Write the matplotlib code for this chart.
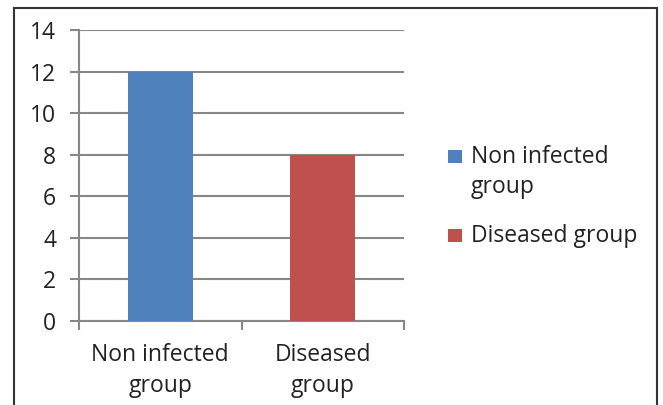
import matplotlib.pyplot as plt
import matplotlib.lines as mlines
from matplotlib.patches import Rectangle

# Group counts
categories = ['Non infected\ngroup', 'Diseased\ngroup']
legend_labels = ['Non infected\ngroup', 'Diseased group']
counts = [12, 8]
colors = ['#4F81BD', '#C0504D']
y_ticks = [0, 2, 4, 6, 8, 10, 12, 14]

W, H = 663, 405
plt.rcParams['font.family'] = ['Open Sans', 'DejaVu Sans']
FS = 16.5
TXT = '#222222'


def fx(px):
    return px / W


def fy(py):
    return 1 - py / H


fig = plt.figure(figsize=(W / 100, H / 100), dpi=100)
ax = fig.add_axes([fx(79), fy(321), fx(404 - 79), (321 - 30) / H])

x = list(range(len(categories)))
ax.bar(x, counts, width=0.4, color=colors, zorder=3)
ax.set_xlim(-0.5, len(categories) - 0.5)
ax.set_ylim(0, 14)
ax.set_yticks(y_ticks)
ax.set_yticklabels([str(v) for v in y_ticks], fontsize=FS, color=TXT)

# category labels centered, tick marks on category boundaries
ax.set_xticks(x)
ax.set_xticklabels(categories, fontsize=FS, color=TXT, linespacing=1.35)
ax.tick_params(axis='x', length=0, pad=16)
ax.set_xticks([-0.5, 0.5, 1.5], minor=True)
ax.tick_params(axis='x', which='minor', length=6.5, width=1.5, color='#878787')
ax.tick_params(axis='y', length=6.5, width=1.5, color='#878787', pad=10)

ax.grid(axis='y', color='#878787', linewidth=1.5, zorder=0)
for side in ['top', 'right']:
    ax.spines[side].set_visible(False)
for side in ['left', 'bottom']:
    ax.spines[side].set_color('#878787')
    ax.spines[side].set_linewidth(1.5)

# legend: swatch lined up with the first line of each label
legend_rows = [163, 242]  # baseline of first text line, px from top
line_step = 30
for label, color, base in zip(legend_labels, colors, legend_rows):
    fig.add_artist(Rectangle((fx(448), fy(base)), 14 / W, 13 / H,
                             facecolor=color, edgecolor='none',
                             transform=fig.transFigure))
    for i, line in enumerate(label.split('\n')):
        fig.text(fx(471), fy(base + i * line_step), line, fontsize=FS,
                 color=TXT, ha='left', va='baseline')

# chart frame (open at the bottom)
frame = dict(color='#333333', linewidth=1.5, transform=fig.transFigure)
fig.add_artist(mlines.Line2D([fx(14), fx(14)], [0, fy(8)], **frame))
fig.add_artist(mlines.Line2D([fx(14), fx(657)], [fy(8), fy(8)], **frame))
fig.add_artist(mlines.Line2D([fx(657), fx(657)], [0, fy(8)], **frame))

fig.savefig('out.png', dpi=100)
